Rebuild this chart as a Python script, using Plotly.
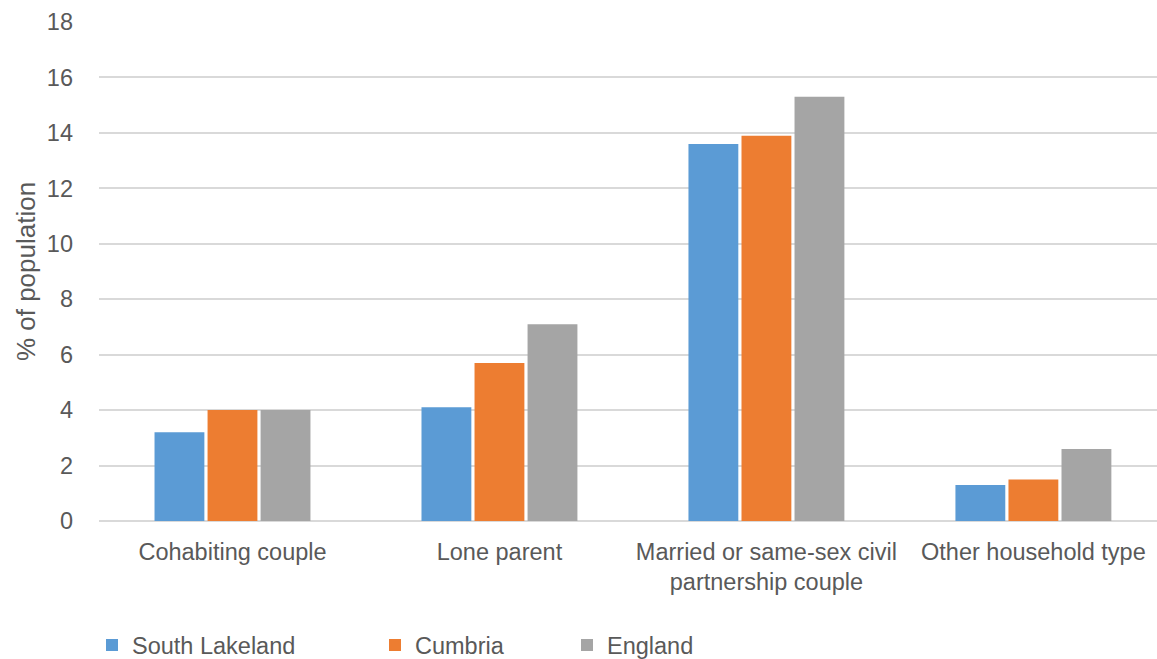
import plotly.graph_objects as go

categories = ["Cohabiting couple", "Lone parent",
              "Married or same-sex civil<br>partnership couple", "Other household type"]
south_lakeland = [3.2, 4.1, 13.6, 1.3]
cumbria = [4.0, 5.7, 13.9, 1.5]
england = [4.0, 7.1, 15.3, 2.6]
y_ticks = [0, 2, 4, 6, 8, 10, 12, 14, 16, 18]

colors = {"South Lakeland": "#5b9bd5", "Cumbria": "#ed7d31", "England": "#a5a5a5"}
font_family = "Liberation Sans, Arial, sans-serif"
FS = 23.5

fig = go.Figure()
series = [("South Lakeland", south_lakeland, "legend"),
          ("Cumbria", cumbria, "legend2"),
          ("England", england, "legend3")]
for name, vals, lg in series:
    fig.add_trace(go.Bar(x=categories, y=vals, name=name, marker_color=colors[name],
                         marker_line_width=0, legend=lg))


def legend_at(xpx):
    return dict(orientation="h", xref="container", x=xpx / 1157, xanchor="left",
                yref="container", y=0.021, yanchor="middle",
                font=dict(size=FS, color="#595959"), bgcolor="rgba(0,0,0,0)")


fig.update_layout(
    width=1157, height=659,
    margin=dict(l=99, r=0, t=22, b=138, autoexpand=False),
    plot_bgcolor="white", paper_bgcolor="white",
    barmode="group", bargap=0.404, bargroupgap=0.06,
    font=dict(family=font_family, size=FS, color="#595959"),
    showlegend=True,
    legend=legend_at(92),
    legend2=legend_at(375),
    legend3=legend_at(567),
    xaxis=dict(showgrid=False, showline=False, ticks="", range=[-0.5, 3.463], automargin=False,
               ticklabelstandoff=14, tickfont=dict(size=FS, color="#595959")),
    yaxis=dict(range=[0, 18], tickvals=y_ticks, showgrid=True, gridcolor="#d9d9d9", gridwidth=1.5,
               zeroline=True, zerolinecolor="#d9d9d9", zerolinewidth=1.5, automargin=False,
               ticks="", ticklabelstandoff=25, tickfont=dict(size=FS, color="#595959"),
               title=dict(text="% of population", standoff=3, font=dict(size=26, color="#595959"))),
)

fig.write_html("out.html")
